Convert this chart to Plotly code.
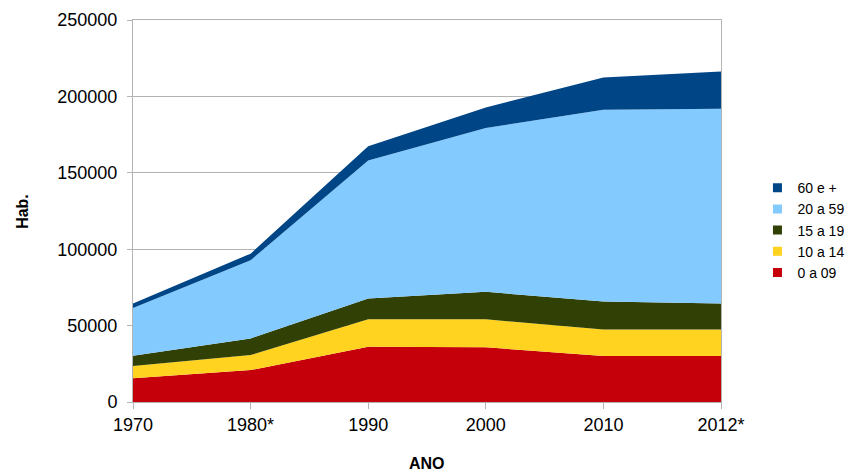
import plotly.graph_objects as go

# data
anos = ["1970", "1980*", "1990", "2000", "2010", "2012*"]
faixa_0_09 = [15500, 20900, 36200, 35800, 30100, 30100]
faixa_10_14 = [8000, 9800, 17900, 18300, 17400, 17400]
faixa_15_19 = [6800, 10900, 13700, 18000, 18300, 17000]
faixa_20_59 = [31200, 51200, 90200, 107200, 125500, 127400]
faixa_60 = [3000, 4300, 9400, 13500, 21100, 24400]

series = [
    ("0 a 09", faixa_0_09, "#C5000B"),
    ("10 a 14", faixa_10_14, "#FFD320"),
    ("15 a 19", faixa_15_19, "#314004"),
    ("20 a 59", faixa_20_59, "#83CAFF"),
    ("60 e +", faixa_60, "#004586"),
]

fig = go.Figure()
for nome, vals, cor in series:
    fig.add_trace(go.Scatter(
        x=anos, y=vals, name=nome,
        stackgroup="a", mode="none",
        fillcolor=cor,
        line=dict(width=0),
        showlegend=False,
    ))

# legend entries with square keys, like the original
for nome, vals, cor in series:
    fig.add_trace(go.Scatter(
        x=[None], y=[None], name=nome, mode="markers",
        marker=dict(symbol="square", size=9, color=cor),
    ))

grid = "#b3b3b3"
# the page body adds 8px, so left/top margins are 8px smaller
fig.update_layout(
    width=857, height=472,
    margin=dict(l=125, r=144, t=12, b=78, autoexpand=False),
    plot_bgcolor="white", paper_bgcolor="white",
    font=dict(family="Liberation Sans, Arial, sans-serif", size=18, color="#000000"),
    showlegend=True,
    legend=dict(
        traceorder="reversed",
        x=1.062, y=0.45, xanchor="left", yanchor="middle",
        font=dict(size=14),
        itemwidth=30,
        borderwidth=0,
    ),
    xaxis=dict(
        type="category", range=[0, 5],
        showgrid=False,
        showline=True, linecolor=grid, mirror=True,
        ticks="outside", ticklen=6, tickcolor=grid,
        automargin=False,
    ),
    yaxis=dict(
        range=[0, 250000], dtick=50000,
        showgrid=True, gridcolor=grid,
        showline=True, linecolor=grid, mirror=True,
        ticks="outside", ticklen=5, tickcolor=grid,
        ticklabelstandoff=6,
        tickformat="d",
        zeroline=False,
        automargin=False,
    ),
    annotations=[
        dict(text="<b>ANO</b>", x=0.5, y=-0.16, xref="paper", yref="paper",
             xanchor="center", yanchor="middle", showarrow=False,
             font=dict(size=16)),
        dict(text="<b>Hab.</b>", x=-0.189, y=0.5, xref="paper", yref="paper",
             xanchor="center", yanchor="middle", showarrow=False,
             textangle=-90, font=dict(size=16)),
    ],
)

fig.write_html("out.html")
